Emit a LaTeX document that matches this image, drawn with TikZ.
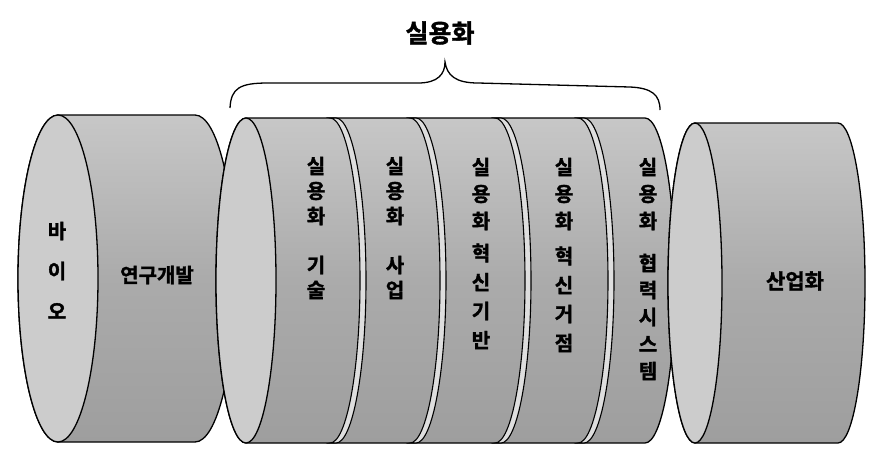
\documentclass[tikz,border=0pt]{standalone}
\usepackage{fontspec}
\newfontfamily\kr{Noto Sans CJK KR}[BoldFont={* Bold}, BoldFeatures={FakeBold=1.6}]
\definecolor{cTop}{gray}{0.78}
\definecolor{cMid}{gray}{0.67}
\definecolor{cBot}{gray}{0.62}
\definecolor{cFace}{gray}{0.80}
\definecolor{cBand}{gray}{0.87}
\newcommand\kbody[5]{%
  \shade[draw=black, line width=1.3pt, top color=cTop, bottom color=cBot, middle color=cMid]
  (#1,#4-#5) -- (#2,#4-#5) arc[start angle=-90,end angle=90,x radius=#3,y radius=#5]
  -- (#1,#4+#5) arc[start angle=90,end angle=270,x radius=#3,y radius=#5] -- cycle;}
\newcommand\kband[4]{% cx rx cy ry
  \path[fill=cBand, draw=black, line width=1.1pt]
  (#1,#3-#4) arc[start angle=-90,end angle=90,x radius=#2,y radius=#4]
  -- (#1+6,#3+#4) arc[start angle=90,end angle=-90,x radius=#2,y radius=#4] -- cycle;}
\begin{document}
\begin{tikzpicture}[x=1pt,y=-1pt,
  lab/.style={font=\kr\bfseries\fontsize{20}{20}\selectfont, inner sep=0pt},
  big/.style={font=\kr\bfseries\fontsize{25}{25}\selectfont, inner sep=0pt}]
\useasboundingbox (0,0) rectangle (872,458);
% cylinder 1
\kbody{58}{195}{40}{278.5}{163.5}
\draw[line width=1.3pt, fill=cFace] (58,278.5) ellipse[x radius=40, y radius=163.5];
% cylinder 2
\kbody{246}{645}{30}{280.5}{162.5}
\kband{330}{30}{280.5}{162.5}
\kband{410}{30}{280.5}{162.5}
\kband{495}{30}{280.5}{162.5}
\kband{578}{30}{280.5}{162.5}
\draw[line width=1.3pt, fill=cFace] (246,280.5) ellipse[x radius=30, y radius=162.5];
% cylinder 3
\kbody{695}{838}{27}{283}{160}
\draw[line width=1.3pt, fill=cFace] (695,283) ellipse[x radius=27, y radius=160];
% brace
\coordinate (bl) at (230,108);
\coordinate (bt) at (445,62);
\coordinate (br) at (660,110);
\draw[line width=1.3pt] (bl) .. controls (231,88) and (240,83) .. (268,83) -- (418,83)
  .. controls (438,83) and (445,74) .. (bt)
  .. controls (447,75) and (455,83) .. (478,83) -- (630,87)
  .. controls (652,88) and (660,95) .. (br);
\node[big] (title) at (440,33) {실용화};
% labels
\foreach \ch [count=\i] in {바,이,오} \node[lab] (bio\i) at (57,231+40*\i-40) {\ch};
\node[lab] (rnd) at (157,275) {연구개발};
\node[lab, font=\kr\bfseries\fontsize{21}{21}\selectfont] (ind) at (795,281) {산업화};
\foreach \ch [count=\i] in {실,용,화} {
  \node[lab] (a\i) at (316,166+25*\i-25) {\ch};
  \node[lab] (b\i) at (395,166+25*\i-25) {\ch};
  \node[lab] (c\i) at (481,167+27*\i-27) {\ch};
  \node[lab] (d\i) at (564,167+27*\i-27) {\ch};
  \node[lab] (e\i) at (648,167+27*\i-27) {\ch};
}
\node[lab] (a4) at (316,265) {기};
\node[lab] (a5) at (316,290) {술};
\node[lab] (b4) at (395,265) {사};
\node[lab] (b5) at (395,290) {업};
\foreach \ch [count=\i] in {혁,신,기,반} \node[lab] (cc\i) at (481,253+29*\i-29) {\ch};
\foreach \ch [count=\i] in {혁,신,거,점} \node[lab] (dd\i) at (564,256+29*\i-29) {\ch};
\foreach \ch [count=\i] in {협,력,시,스,템} \node[lab] (ee\i) at (648,263+27*\i-27) {\ch};
\end{tikzpicture}
\end{document}
